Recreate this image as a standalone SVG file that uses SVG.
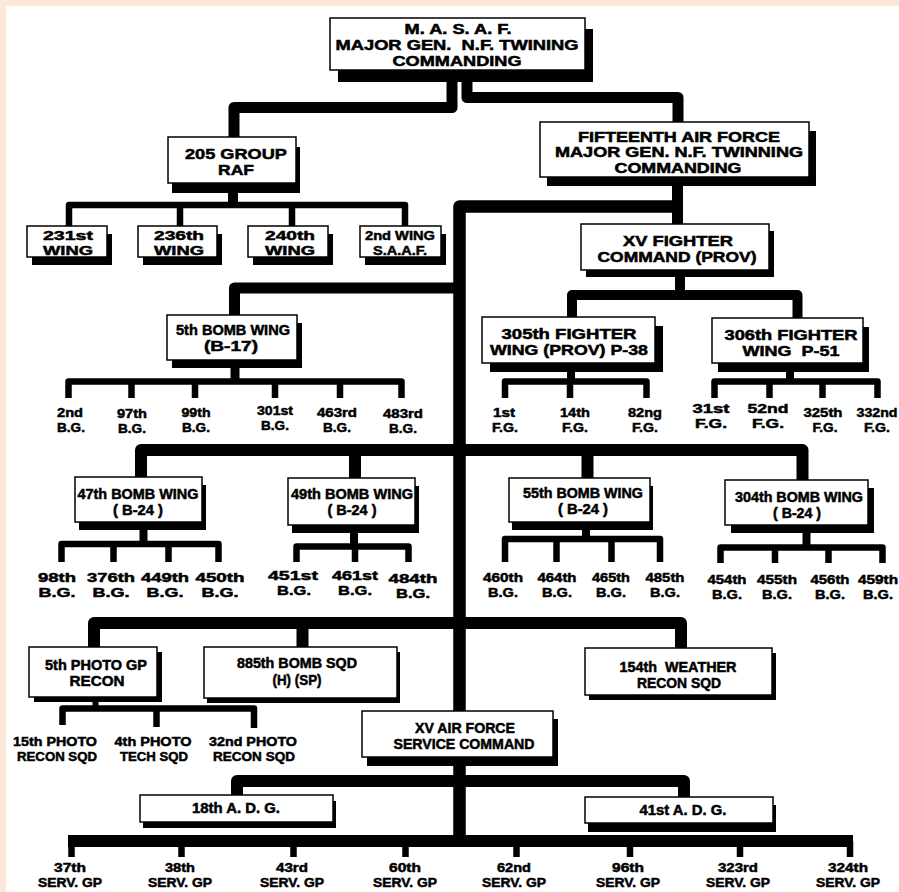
<svg xmlns="http://www.w3.org/2000/svg" width="899" height="892" viewBox="0 0 899 892">
<style>
.box{fill:#fff;stroke:#000;stroke-width:1.5}
.sh{fill:#000}
.t{font-family:"Liberation Sans",Arial,sans-serif;font-weight:bold;text-anchor:middle;fill:#000;stroke:#000;stroke-width:0.5}
.k{fill:none;stroke:#000;stroke-width:11;stroke-linejoin:round}
.n{fill:none;stroke:#000;stroke-width:6.5;stroke-linejoin:round}
.s12{font-size:12.8px}
.s13{font-size:13.3px}
.s14{font-size:14.2px}
.s15{font-size:14.7px}
</style>
<rect x="0" y="0" width="899" height="892" fill="#fbe8da"/>
<rect x="6" y="6" width="893" height="886" fill="#fff"/>

<g id="connectors">
  <path class="k" d="M452 76V107.5H234V137"/>
  <path class="k" d="M467 76V97.5H678V122"/>
  <path class="k" d="M677.5 180V226"/>
  <path class="k" style="stroke-width:12.5" d="M677 206.5H459.5V841"/>
  <path class="k" d="M459 288H234.5V315"/>
  <path class="k" style="stroke-width:10" d="M680 272V295"/>
  <path class="k" style="stroke-width:10" d="M572 317V295H797.5V318"/>
  <path class="k" style="stroke-width:12" d="M141 477V450H802.5V480M355 450V478M587.5 450V478"/>
  <path class="k" style="stroke-width:12" d="M94 647V623H681V648M302.5 623V647"/>
  <path class="k" style="stroke-width:12" d="M237 795V781H684V797"/>
  <path class="k" style="stroke-width:12;stroke-linejoin:miter" d="M68 841H853"/>
  <path class="n" style="stroke-width:10" d="M233 188V205"/>
  <path class="n" d="M69 226V205H405V226M180 205V226M292 205V226"/>
  <path class="n" style="stroke-width:9" d="M235 364V381"/>
  <path class="n" d="M68.5 398V381.5H401.5V398M131.5 381.5V398M195 381.5V398M275 381.5V398M340 381.5V398"/>
  <path class="n" style="stroke-width:8" d="M571 368V381"/>
  <path class="n" d="M505 398V381.5H646.5V398M570 381.5V398"/>
  <path class="n" style="stroke-width:8" d="M790 368V381"/>
  <path class="n" d="M714.5 398V381.5H877.5V398M769.5 381.5V398M822.5 381.5V398"/>
  <path class="n" style="stroke-width:8" d="M143.5 526V544"/>
  <path class="n" d="M61.5 562V544H218.5V562M113.5 544V562M168.5 544V562"/>
  <path class="n" style="stroke-width:8" d="M354 529V546"/>
  <path class="n" d="M296.5 562V546.5H408.5V562M355 546.5V562"/>
  <path class="n" style="stroke-width:8" d="M586 526V539"/>
  <path class="n" d="M505 562V539H660V562M556.5 539V562M611.5 539V562"/>
  <path class="n" style="stroke-width:8" d="M806.5 529V547"/>
  <path class="n" d="M720.5 563V547.5H882.5V563M775 547.5V563M828.5 547.5V563"/>
  <path class="n" style="stroke-width:6" d="M95.5 699V708"/>
  <path class="n" d="M62.5 725V708.5H254V728M156.5 708.5V727"/>
  <path class="n" d="M71.5 841V857M181.5 841V857M293.5 841V857M405.5 841V857M516.5 841V857M630 841V857M740 841V857M850 841V857"/>
</g>

<g id="masaf">
  <rect class="sh" x="338" y="29" width="255" height="53"/>
  <rect class="box" x="330" y="18" width="255" height="52"/>
  <text class="t" style="font-size:13.8px" xml:space="preserve"><tspan x="458" y="33.5" textLength="107" lengthAdjust="spacingAndGlyphs">M. A. S. A. F.</tspan><tspan x="457" y="50" textLength="243" lengthAdjust="spacingAndGlyphs">MAJOR GEN.  N.F. TWINING</tspan><tspan x="457" y="65.5" textLength="129" lengthAdjust="spacingAndGlyphs">COMMANDING</tspan></text>
</g>

<g id="group205">
  <rect class="sh" x="172" y="147" width="128" height="46"/>
  <rect class="box" x="168" y="137" width="128" height="46"/>
  <text class="t s15"><tspan x="236" y="158.5" textLength="102" lengthAdjust="spacingAndGlyphs">205 GROUP</tspan><tspan x="236" y="175" textLength="36" lengthAdjust="spacingAndGlyphs">RAF</tspan></text>
</g>

<g id="wing231">
  <rect class="sh" x="32" y="234" width="80" height="31"/>
  <rect class="box" x="27" y="226" width="80" height="31"/>
  <text class="t s13"><tspan x="68" y="239.5" textLength="50" lengthAdjust="spacingAndGlyphs">231st</tspan><tspan x="68" y="254.5" textLength="50" lengthAdjust="spacingAndGlyphs">WING</tspan></text>
</g>
<g id="wing236">
  <rect class="sh" x="143" y="234" width="79" height="31"/>
  <rect class="box" x="138" y="226" width="79" height="31"/>
  <text class="t s13"><tspan x="179" y="239.5" textLength="50" lengthAdjust="spacingAndGlyphs">236th</tspan><tspan x="179" y="254.5" textLength="50" lengthAdjust="spacingAndGlyphs">WING</tspan></text>
</g>
<g id="wing240">
  <rect class="sh" x="253" y="234" width="80" height="31"/>
  <rect class="box" x="248" y="226" width="80" height="31"/>
  <text class="t s13"><tspan x="290" y="239.5" textLength="50" lengthAdjust="spacingAndGlyphs">240th</tspan><tspan x="290" y="254.5" textLength="50" lengthAdjust="spacingAndGlyphs">WING</tspan></text>
</g>
<g id="wing2saaf">
  <rect class="sh" x="365" y="234" width="81" height="31"/>
  <rect class="box" x="360" y="226" width="81" height="31"/>
  <text class="t s13"><tspan x="400" y="239.5" textLength="70" lengthAdjust="spacingAndGlyphs">2nd WING</tspan><tspan x="400" y="254.5" textLength="54" lengthAdjust="spacingAndGlyphs">S.A.A.F.</tspan></text>
</g>

<g id="af15">
  <rect class="sh" x="547" y="131" width="269" height="55"/>
  <rect class="box" x="540" y="122" width="269" height="55"/>
  <text class="t" style="font-size:13.8px"><tspan x="679" y="141.5" textLength="202" lengthAdjust="spacingAndGlyphs">FIFTEENTH AIR FORCE</tspan><tspan x="679" y="157" textLength="248" lengthAdjust="spacingAndGlyphs">MAJOR GEN. N.F. TWINNING</tspan><tspan x="678" y="172.5" textLength="127" lengthAdjust="spacingAndGlyphs">COMMANDING</tspan></text>
</g>

<g id="xvfighter">
  <rect class="sh" x="586" y="231" width="188" height="46"/>
  <rect class="box" x="581" y="224" width="188" height="46"/>
  <text class="t s14"><tspan x="678" y="246" textLength="110" lengthAdjust="spacingAndGlyphs">XV FIGHTER</tspan><tspan x="677" y="262" textLength="159" lengthAdjust="spacingAndGlyphs">COMMAND (PROV)</tspan></text>
</g>

<g id="fw305">
  <rect class="sh" x="490" y="326" width="173" height="46"/>
  <rect class="box" x="482" y="317" width="173" height="46"/>
  <text class="t s14"><tspan x="569" y="338.5" textLength="135" lengthAdjust="spacingAndGlyphs">305th FIGHTER</tspan><tspan x="569" y="354.5" textLength="158" lengthAdjust="spacingAndGlyphs">WING (PROV) P-38</tspan></text>
</g>
<g id="fw306">
  <rect class="sh" x="718" y="327" width="151" height="45"/>
  <rect class="box" x="712" y="318" width="151" height="45"/>
  <text class="t s14" xml:space="preserve"><tspan x="791" y="339.5" textLength="133" lengthAdjust="spacingAndGlyphs">306th FIGHTER</tspan><tspan x="791" y="355.5" textLength="97" lengthAdjust="spacingAndGlyphs">WING  P-51</tspan></text>
</g>

<g id="bw5">
  <rect class="sh" x="172" y="323" width="130" height="45"/>
  <rect class="box" x="167" y="315" width="130" height="45"/>
  <text class="t s14"><tspan x="233" y="334.5" textLength="114" lengthAdjust="spacingAndGlyphs">5th BOMB WING</tspan><tspan x="231" y="350.5" textLength="54" lengthAdjust="spacingAndGlyphs">(B-17)</tspan></text>
</g>

<g id="bg2"><text class="t s13"><tspan x="70" y="416.5" textLength="26" lengthAdjust="spacingAndGlyphs">2nd</tspan><tspan x="71" y="431.5" textLength="28" lengthAdjust="spacingAndGlyphs">B.G.</tspan></text></g>
<g id="bg97"><text class="t s13"><tspan x="132" y="417.5" textLength="30" lengthAdjust="spacingAndGlyphs">97th</tspan><tspan x="132" y="432.5" textLength="28" lengthAdjust="spacingAndGlyphs">B.G.</tspan></text></g>
<g id="bg99"><text class="t s13"><tspan x="196" y="416.5" textLength="29" lengthAdjust="spacingAndGlyphs">99th</tspan><tspan x="196" y="431.5" textLength="28" lengthAdjust="spacingAndGlyphs">B.G.</tspan></text></g>
<g id="bg301"><text class="t s13"><tspan x="275" y="415" textLength="36" lengthAdjust="spacingAndGlyphs">301st</tspan><tspan x="275" y="430" textLength="28" lengthAdjust="spacingAndGlyphs">B.G.</tspan></text></g>
<g id="bg463"><text class="t s13"><tspan x="337" y="416.5" textLength="40" lengthAdjust="spacingAndGlyphs">463rd</tspan><tspan x="337" y="431.5" textLength="28" lengthAdjust="spacingAndGlyphs">B.G.</tspan></text></g>
<g id="bg483"><text class="t s13"><tspan x="403" y="417.5" textLength="40" lengthAdjust="spacingAndGlyphs">483rd</tspan><tspan x="403" y="432.5" textLength="28" lengthAdjust="spacingAndGlyphs">B.G.</tspan></text></g>

<g id="fg1"><text class="t s13"><tspan x="504" y="417" textLength="22" lengthAdjust="spacingAndGlyphs">1st</tspan><tspan x="505" y="432" textLength="26" lengthAdjust="spacingAndGlyphs">F.G.</tspan></text></g>
<g id="fg14"><text class="t s13"><tspan x="575" y="417" textLength="30" lengthAdjust="spacingAndGlyphs">14th</tspan><tspan x="575" y="432" textLength="26" lengthAdjust="spacingAndGlyphs">F.G.</tspan></text></g>
<g id="fg82"><text class="t s13"><tspan x="645" y="417" textLength="34" lengthAdjust="spacingAndGlyphs">82ng</tspan><tspan x="645" y="432" textLength="26" lengthAdjust="spacingAndGlyphs">F.G.</tspan></text></g>
<g id="fg31"><text class="t s13"><tspan x="711" y="413" textLength="37" lengthAdjust="spacingAndGlyphs">31st</tspan><tspan x="711" y="428" textLength="32" lengthAdjust="spacingAndGlyphs">F.G.</tspan></text></g>
<g id="fg52"><text class="t s13"><tspan x="768" y="413" textLength="41" lengthAdjust="spacingAndGlyphs">52nd</tspan><tspan x="768" y="428" textLength="32" lengthAdjust="spacingAndGlyphs">F.G.</tspan></text></g>
<g id="fg325"><text class="t s13"><tspan x="823" y="417" textLength="39" lengthAdjust="spacingAndGlyphs">325th</tspan><tspan x="825" y="432" textLength="25" lengthAdjust="spacingAndGlyphs">F.G.</tspan></text></g>
<g id="fg332"><text class="t s13"><tspan x="877" y="417" textLength="41" lengthAdjust="spacingAndGlyphs">332nd</tspan><tspan x="877" y="432" textLength="26" lengthAdjust="spacingAndGlyphs">F.G.</tspan></text></g>

<g id="bw47">
  <rect class="sh" x="79" y="485" width="127" height="45"/>
  <rect class="box" x="75" y="477" width="127" height="45"/>
  <text class="t s14" xml:space="preserve"><tspan x="138" y="499" textLength="121" lengthAdjust="spacingAndGlyphs">47th BOMB WING</tspan><tspan x="138" y="515" textLength="50" lengthAdjust="spacingAndGlyphs">( B-24 )</tspan></text>
</g>
<g id="bw49">
  <rect class="sh" x="292" y="486" width="127" height="47"/>
  <rect class="box" x="288" y="478" width="127" height="47"/>
  <text class="t s14" xml:space="preserve"><tspan x="352" y="499" textLength="122" lengthAdjust="spacingAndGlyphs">49th BOMB WING</tspan><tspan x="352" y="515" textLength="49" lengthAdjust="spacingAndGlyphs">( B-24 )</tspan></text>
</g>
<g id="bw55">
  <rect class="sh" x="512" y="486" width="141" height="44"/>
  <rect class="box" x="509" y="478" width="141" height="44"/>
  <text class="t s14" xml:space="preserve"><tspan x="583" y="497.5" textLength="120" lengthAdjust="spacingAndGlyphs">55th BOMB WING</tspan><tspan x="583" y="513.5" textLength="50" lengthAdjust="spacingAndGlyphs">( B-24 )</tspan></text>
</g>
<g id="bw304">
  <rect class="sh" x="731" y="488" width="143" height="45"/>
  <rect class="box" x="725" y="480" width="143" height="45"/>
  <text class="t s14" xml:space="preserve"><tspan x="799" y="501.5" textLength="128" lengthAdjust="spacingAndGlyphs">304th BOMB WING</tspan><tspan x="797" y="517.5" textLength="48" lengthAdjust="spacingAndGlyphs">( B-24 )</tspan></text>
</g>

<g id="bg98"><text class="t s13"><tspan x="57" y="581.5" textLength="38" lengthAdjust="spacingAndGlyphs">98th</tspan><tspan x="57" y="596.5" textLength="37" lengthAdjust="spacingAndGlyphs">B.G.</tspan></text></g>
<g id="bg376"><text class="t s13"><tspan x="111" y="581.5" textLength="48" lengthAdjust="spacingAndGlyphs">376th</tspan><tspan x="111" y="596.5" textLength="37" lengthAdjust="spacingAndGlyphs">B.G.</tspan></text></g>
<g id="bg449"><text class="t s13"><tspan x="165" y="581.5" textLength="48" lengthAdjust="spacingAndGlyphs">449th</tspan><tspan x="165" y="596.5" textLength="37" lengthAdjust="spacingAndGlyphs">B.G.</tspan></text></g>
<g id="bg450"><text class="t s13"><tspan x="220" y="581.5" textLength="49" lengthAdjust="spacingAndGlyphs">450th</tspan><tspan x="220" y="596.5" textLength="37" lengthAdjust="spacingAndGlyphs">B.G.</tspan></text></g>
<g id="bg451"><text class="t s13"><tspan x="293" y="580" textLength="50" lengthAdjust="spacingAndGlyphs">451st</tspan><tspan x="294" y="595" textLength="34" lengthAdjust="spacingAndGlyphs">B.G.</tspan></text></g>
<g id="bg461"><text class="t s13"><tspan x="355" y="580" textLength="46" lengthAdjust="spacingAndGlyphs">461st</tspan><tspan x="355" y="595" textLength="34" lengthAdjust="spacingAndGlyphs">B.G.</tspan></text></g>
<g id="bg484"><text class="t s13"><tspan x="413" y="582.5" textLength="49" lengthAdjust="spacingAndGlyphs">484th</tspan><tspan x="413" y="597.5" textLength="34" lengthAdjust="spacingAndGlyphs">B.G.</tspan></text></g>

<g id="bg460"><text class="t s13"><tspan x="503" y="581.5" textLength="40" lengthAdjust="spacingAndGlyphs">460th</tspan><tspan x="503" y="596.5" textLength="30" lengthAdjust="spacingAndGlyphs">B.G.</tspan></text></g>
<g id="bg464"><text class="t s13"><tspan x="557" y="581.5" textLength="39" lengthAdjust="spacingAndGlyphs">464th</tspan><tspan x="557" y="596.5" textLength="30" lengthAdjust="spacingAndGlyphs">B.G.</tspan></text></g>
<g id="bg465"><text class="t s13"><tspan x="611" y="581.5" textLength="38" lengthAdjust="spacingAndGlyphs">465th</tspan><tspan x="611" y="596.5" textLength="30" lengthAdjust="spacingAndGlyphs">B.G.</tspan></text></g>
<g id="bg485"><text class="t s13"><tspan x="665" y="581.5" textLength="39" lengthAdjust="spacingAndGlyphs">485th</tspan><tspan x="665" y="596.5" textLength="30" lengthAdjust="spacingAndGlyphs">B.G.</tspan></text></g>
<g id="bg454"><text class="t s13"><tspan x="727" y="584" textLength="39" lengthAdjust="spacingAndGlyphs">454th</tspan><tspan x="727" y="599" textLength="30" lengthAdjust="spacingAndGlyphs">B.G.</tspan></text></g>
<g id="bg455"><text class="t s13"><tspan x="777" y="584" textLength="40" lengthAdjust="spacingAndGlyphs">455th</tspan><tspan x="777" y="599" textLength="30" lengthAdjust="spacingAndGlyphs">B.G.</tspan></text></g>
<g id="bg456"><text class="t s13"><tspan x="830" y="584" textLength="39" lengthAdjust="spacingAndGlyphs">456th</tspan><tspan x="830" y="599" textLength="30" lengthAdjust="spacingAndGlyphs">B.G.</tspan></text></g>
<g id="bg459"><text class="t s13"><tspan x="878" y="584" textLength="40" lengthAdjust="spacingAndGlyphs">459th</tspan><tspan x="878" y="599" textLength="30" lengthAdjust="spacingAndGlyphs">B.G.</tspan></text></g>

<g id="photo5">
  <rect class="sh" x="34" y="652" width="128" height="50"/>
  <rect class="box" x="29" y="647" width="128" height="50"/>
  <text class="t s14"><tspan x="96" y="669.5" textLength="102" lengthAdjust="spacingAndGlyphs">5th PHOTO GP</tspan><tspan x="97" y="685.5" textLength="55" lengthAdjust="spacingAndGlyphs">RECON</tspan></text>
</g>
<g id="bomb885">
  <rect class="sh" x="207" y="652" width="193" height="51"/>
  <rect class="box" x="204" y="647" width="193" height="51"/>
  <text class="t s14"><tspan x="297" y="668" textLength="120" lengthAdjust="spacingAndGlyphs">885th BOMB SQD</tspan><tspan x="297" y="685" textLength="49" lengthAdjust="spacingAndGlyphs">(H) (SP)</tspan></text>
</g>
<g id="weather154">
  <rect class="sh" x="589" y="653" width="187" height="47"/>
  <rect class="box" x="585" y="648" width="187" height="47"/>
  <text class="t s14" xml:space="preserve"><tspan x="678" y="671.5" textLength="117" lengthAdjust="spacingAndGlyphs">154th  WEATHER</tspan><tspan x="679" y="687.5" textLength="84" lengthAdjust="spacingAndGlyphs">RECON SQD</tspan></text>
</g>

<g id="sq15"><text class="t s12"><tspan x="55" y="746" textLength="84" lengthAdjust="spacingAndGlyphs">15th PHOTO</tspan><tspan x="57" y="760.5" textLength="80" lengthAdjust="spacingAndGlyphs">RECON SQD</tspan></text></g>
<g id="sq4"><text class="t s12"><tspan x="153" y="746" textLength="77" lengthAdjust="spacingAndGlyphs">4th PHOTO</tspan><tspan x="154" y="760.5" textLength="68" lengthAdjust="spacingAndGlyphs">TECH SQD</tspan></text></g>
<g id="sq32"><text class="t s12"><tspan x="253" y="746" textLength="88" lengthAdjust="spacingAndGlyphs">32nd PHOTO</tspan><tspan x="254" y="760.5" textLength="82" lengthAdjust="spacingAndGlyphs">RECON SQD</tspan></text></g>

<g id="xvservice">
  <rect class="sh" x="367" y="719" width="191" height="47"/>
  <rect class="box" x="362" y="711" width="191" height="46"/>
  <text class="t s14"><tspan x="465" y="732.5" textLength="100" lengthAdjust="spacingAndGlyphs">XV AIR FORCE</tspan><tspan x="464" y="748.5" textLength="141" lengthAdjust="spacingAndGlyphs">SERVICE COMMAND</tspan></text>
</g>

<g id="adg18">
  <rect class="sh" x="143" y="801" width="193" height="27"/>
  <rect class="box" x="140" y="795" width="193" height="27"/>
  <text class="t s14" x="236" y="813" textLength="88" lengthAdjust="spacingAndGlyphs">18th A. D. G.</text>
</g>
<g id="adg41">
  <rect class="sh" x="588" y="805" width="188" height="27"/>
  <rect class="box" x="585" y="797" width="188" height="26"/>
  <text class="t s14" x="683" y="815" textLength="87" lengthAdjust="spacingAndGlyphs">41st A. D. G.</text>
</g>

<g id="sg37"><text class="t s13"><tspan x="70" y="872" textLength="32" lengthAdjust="spacingAndGlyphs">37th</tspan><tspan x="70" y="887" textLength="64" lengthAdjust="spacingAndGlyphs">SERV. GP</tspan></text></g>
<g id="sg38"><text class="t s13"><tspan x="180" y="872" textLength="30" lengthAdjust="spacingAndGlyphs">38th</tspan><tspan x="180" y="887" textLength="64" lengthAdjust="spacingAndGlyphs">SERV. GP</tspan></text></g>
<g id="sg43"><text class="t s13"><tspan x="292" y="872" textLength="32" lengthAdjust="spacingAndGlyphs">43rd</tspan><tspan x="292" y="887" textLength="64" lengthAdjust="spacingAndGlyphs">SERV. GP</tspan></text></g>
<g id="sg60"><text class="t s13"><tspan x="405" y="872" textLength="32" lengthAdjust="spacingAndGlyphs">60th</tspan><tspan x="405" y="887" textLength="64" lengthAdjust="spacingAndGlyphs">SERV. GP</tspan></text></g>
<g id="sg62"><text class="t s13"><tspan x="514" y="872" textLength="34" lengthAdjust="spacingAndGlyphs">62nd</tspan><tspan x="514" y="887" textLength="64" lengthAdjust="spacingAndGlyphs">SERV. GP</tspan></text></g>
<g id="sg96"><text class="t s13"><tspan x="628" y="872" textLength="32" lengthAdjust="spacingAndGlyphs">96th</tspan><tspan x="628" y="887" textLength="64" lengthAdjust="spacingAndGlyphs">SERV. GP</tspan></text></g>
<g id="sg323"><text class="t s13"><tspan x="738" y="872" textLength="40" lengthAdjust="spacingAndGlyphs">323rd</tspan><tspan x="738" y="887" textLength="64" lengthAdjust="spacingAndGlyphs">SERV. GP</tspan></text></g>
<g id="sg324"><text class="t s13"><tspan x="848" y="872" textLength="40" lengthAdjust="spacingAndGlyphs">324th</tspan><tspan x="848" y="887" textLength="64" lengthAdjust="spacingAndGlyphs">SERV. GP</tspan></text></g>
</svg>
